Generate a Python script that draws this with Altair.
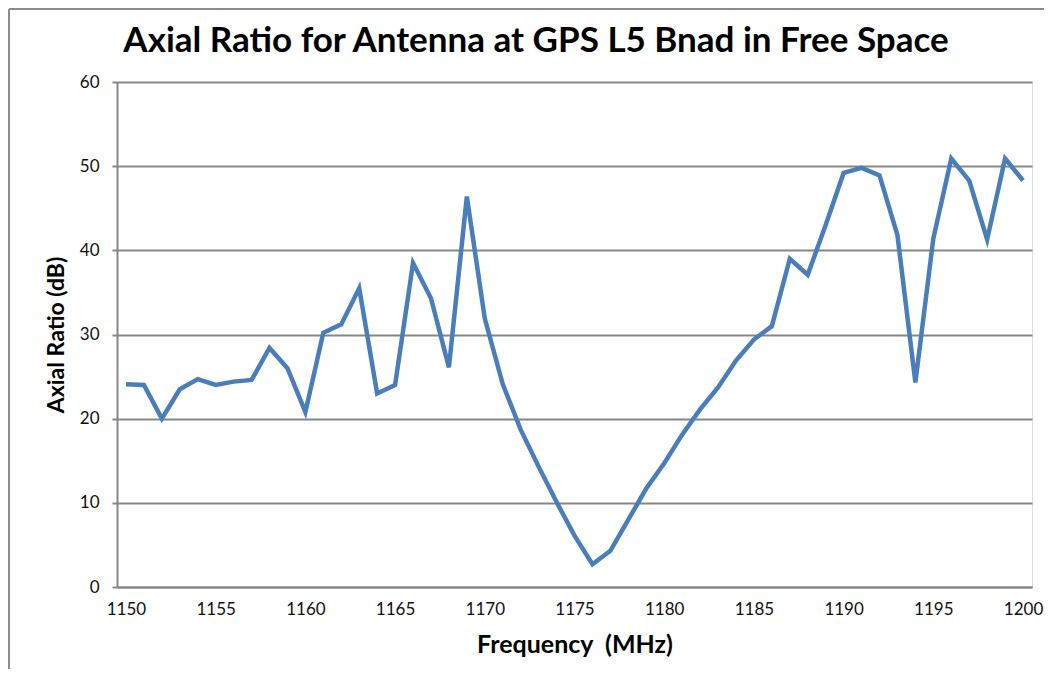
import altair as alt
import pandas as pd

freq_mhz = [1150, 1151, 1152, 1153, 1154, 1155, 1156, 1157, 1158, 1159,
            1160, 1161, 1162, 1163, 1164, 1165, 1166, 1167, 1168, 1169,
            1170, 1171, 1172, 1173, 1174, 1175, 1176, 1177, 1178, 1179,
            1180, 1181, 1182, 1183, 1184, 1185, 1186, 1187, 1188, 1189,
            1190, 1191, 1192, 1193, 1194, 1195, 1196, 1197, 1198, 1199,
            1200]
axial_ratio_db = [24.1, 24.0, 20.0, 23.5, 24.7, 24.0, 24.4, 24.6, 28.4, 26.0,
                  20.8, 30.2, 31.2, 35.5, 23.0, 24.0, 38.5, 34.3, 26.1, 46.4,
                  31.9, 24.1, 18.7, 14.3, 10.1, 6.1, 2.7, 4.3, 8.0, 11.7,
                  14.7, 18.1, 21.1, 23.7, 26.9, 29.4, 31.0, 39.0, 37.1, 43.0,
                  49.2, 49.8, 48.9, 41.8, 24.3, 41.4, 50.9, 48.3, 41.3, 50.9,
                  48.3]
x_tick_labels = [1150, 1155, 1160, 1165, 1170, 1175, 1180, 1185, 1190, 1195, 1200]
y_ticks = [0, 10, 20, 30, 40, 50, 60]
title_text = "Axial Ratio for Antenna at GPS L5 Bnad in Free Space"

df = pd.DataFrame({"f": freq_mhz, "ar": axial_ratio_db})

W, H = 915, 505
FONT = "Lato"
GRID = "#878787"

line = alt.Chart(df).mark_line(color="#4a7ebb", strokeWidth=4.5, strokeJoin="miter", clip=False).encode(
    x=alt.X("f:Q",
            scale=alt.Scale(domain=[1149.5, 1200.5], nice=False, zero=False),
            axis=alt.Axis(values=x_tick_labels, format="d", ticks=False, grid=False,
                          domainColor=GRID, domainWidth=2,
                          labelFont=FONT, labelFontSize=17, labelColor="#111111",
                          labelPadding=14, labelFlush=False,
                          title="Frequency \u00a0(MHz)", titleFont=FONT, titleFontSize=25,
                          titleFontWeight="bold", titleColor="#000000", titlePadding=15)),
    y=alt.Y("ar:Q",
            scale=alt.Scale(domain=[0, 60], nice=False),
            axis=alt.Axis(values=y_ticks, grid=True, gridColor=GRID, gridWidth=2,
                          domainColor=GRID, domainWidth=2, tickColor=GRID, tickWidth=2,
                          tickSize=5, labelFont=FONT, labelFontSize=17,
                          labelColor="#111111", labelPadding=13,
                          title="Axial Ratio (dB)", titleFont=FONT, titleFontSize=23,
                          titleFontWeight="bold", titleColor="#000000", titlePadding=11)),
)

title = alt.Chart(pd.DataFrame({"t": [title_text]})).mark_text(
    font=FONT, fontSize=35, fontWeight="bold", color="#000000", align="center", baseline="middle"
).encode(text="t:N", x=alt.value(419), y=alt.value(-41))

frame_left = alt.Chart(pd.DataFrame({"a": [0]})).mark_rule(color="#8c8c8c", strokeWidth=2).encode(
    x=alt.value(-108), y=alt.value(-73), y2=alt.value(H + 90))
frame_top = alt.Chart(pd.DataFrame({"a": [0]})).mark_rule(color="#8c8c8c", strokeWidth=2).encode(
    x=alt.value(-108), x2=alt.value(W + 12), y=alt.value(-73))

chart = alt.layer(frame_left, frame_top, line, title).properties(
    width=W, height=H,
    autosize=alt.AutoSizeParams(type="none"),
    padding={"left": 109, "top": 74, "right": 12, "bottom": 82},
).configure_view(stroke=None).configure(background="white")

chart.save("out.html", embed_options={"renderer": "svg", "actions": False})
